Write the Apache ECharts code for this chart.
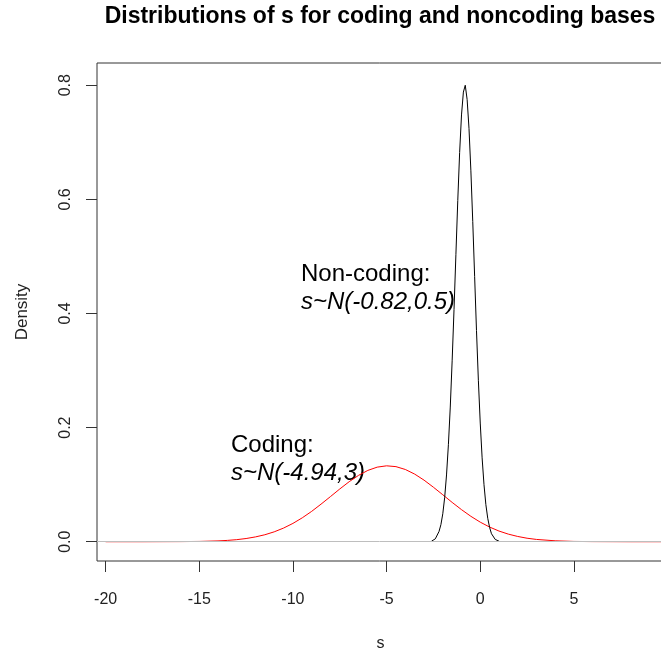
<!DOCTYPE html>
<html>
<head>
<meta charset="utf-8">
<title>Distributions of s</title>
<script src="https://cdn.jsdelivr.net/npm/echarts@6/dist/echarts.min.js"></script>
<style>
  html, body { margin: 0; padding: 0; background: #fff; }
  #chart { width: 661px; height: 653px; }
</style>
</head>
<body>
<div id="chart"></div>
<script>
// values
const codingX = [-20, -18, -16, -15, -14, -13.5, -13, -12.5, -12, -11.5, -11, -10.5, -10, -9.5, -9, -8.5, -8, -7.5, -7, -6.5, -6, -5.5, -5, -4.5, -4, -3.5, -3, -2.5, -2, -1.5, -1, -0.5, 0, 0.5, 1, 1.5, 2, 2.5, 3, 4, 5, 6, 8, 10];
const codingY = [0, 0, 0.0002, 0.0005, 0.0014, 0.0023, 0.0036, 0.0056, 0.0084, 0.0122, 0.0173, 0.0239, 0.0321, 0.0419, 0.0532, 0.0658, 0.079, 0.0924, 0.1051, 0.1162, 0.125, 0.1307, 0.133, 0.1316, 0.1266, 0.1185, 0.1079, 0.0955, 0.0823, 0.0689, 0.0562, 0.0445, 0.0343, 0.0257, 0.0187, 0.0133, 0.0092, 0.0061, 0.004, 0.0016, 0.0005, 0.0002, 0, 0];

const noncodingX = [-2.6, -2.4, -2.2, -2.1, -2.0, -1.9, -1.8, -1.7, -1.6, -1.5, -1.4, -1.3, -1.2, -1.1, -1.0, -0.9, -0.8, -0.7, -0.6, -0.5, -0.4, -0.3, -0.2, -0.1, 0.0, 0.1, 0.2, 0.3, 0.4, 0.5, 0.6, 0.8, 1.0];
const noncodingY = [0.001, 0.005, 0.018, 0.030, 0.049, 0.077, 0.117, 0.170, 0.236, 0.317, 0.407, 0.503, 0.598, 0.682, 0.748, 0.788, 0.800, 0.775, 0.724, 0.650, 0.561, 0.465, 0.370, 0.283, 0.208, 0.147, 0.100, 0.065, 0.041, 0.025, 0.014, 0.004, 0.001];

const xTicks = [-20, -15, -10, -5, 0, 5];
const yTicks = [0, 0.2, 0.4, 0.6, 0.8];

const zip = (xs, ys) => xs.map((x, i) => [x, ys[i]]);
const font = "Liberation Sans, Arial, Helvetica, sans-serif";

const chart = echarts.init(document.getElementById("chart"), null, { renderer: "canvas" });
chart.setOption({
  animation: false,
  backgroundColor: "#fff",
  grid: {
    left: 97, top: 63, width: 567, height: 498,
    outerBoundsMode: "none", containLabel: false,
    show: true, borderColor: "#333", borderWidth: 1, backgroundColor: "transparent"
  },
  xAxis: {
    type: "value", min: -20.46, max: 9.81,
    name: "s", nameLocation: "middle", nameGap: 75,
    nameTextStyle: { fontFamily: font, fontSize: 16, color: "#222" },
    axisLine: { show: false, onZero: false },
    axisTick: { show: true, inside: false, length: 11, customValues: xTicks, lineStyle: { color: "#333" } },
    axisLabel: { customValues: xTicks, margin: 31, fontFamily: font, fontSize: 16, color: "#222" },
    splitLine: { show: false }
  },
  yAxis: {
    type: "value", min: -0.0338, max: 0.839,
    name: "Density", nameLocation: "middle", nameGap: 66, nameRotate: 90,
    nameTextStyle: { fontFamily: font, fontSize: 17, color: "#222" },
    axisLine: { show: false, onZero: false },
    axisTick: { show: true, inside: false, length: 11, customValues: yTicks, lineStyle: { color: "#333" } },
    axisLabel: { customValues: yTicks, rotate: 90, margin: 23, fontFamily: font, fontSize: 16, color: "#222",
      formatter: v => v.toFixed(1) },
    splitLine: { show: false }
  },
  graphic: [
    { type: "text", x: 380, y: 17, style: { text: "Distributions of s for coding and noncoding bases",
      font: "bold 23px " + font, fill: "#000", align: "center", verticalAlign: "middle" } },
    { type: "text", x: 301, y: 274, style: { text: "Non-coding:", font: "24px " + font, fill: "#000", verticalAlign: "middle" } },
    { type: "text", x: 301, y: 302, style: { text: "s~N(-0.82,0.5)", font: "italic 24px " + font, fill: "#000", verticalAlign: "middle" } },
    { type: "text", x: 231, y: 445, style: { text: "Coding:", font: "24px " + font, fill: "#000", verticalAlign: "middle" } },
    { type: "text", x: 231, y: 473, style: { text: "s~N(-4.94,3)", font: "italic 24px " + font, fill: "#000", verticalAlign: "middle" } }
  ],
  series: [
    {
      type: "line", data: [], z: 1, silent: true,
      markLine: { silent: true, symbol: "none", label: { show: false },
        lineStyle: { color: "#bebebe", type: "solid", width: 1 }, data: [{ yAxis: 0 }] }
    },
    {
      name: "Coding", type: "line", data: zip(codingX, codingY), z: 2,
      showSymbol: false, lineStyle: { color: "#ff0000", width: 1 }, itemStyle: { color: "#ff0000" }
    },
    {
      name: "Non-coding", type: "line", data: zip(noncodingX, noncodingY), z: 3,
      showSymbol: false, lineStyle: { color: "#000", width: 1 }, itemStyle: { color: "#000" }
    }
  ]
});
</script>
</body>
</html>
